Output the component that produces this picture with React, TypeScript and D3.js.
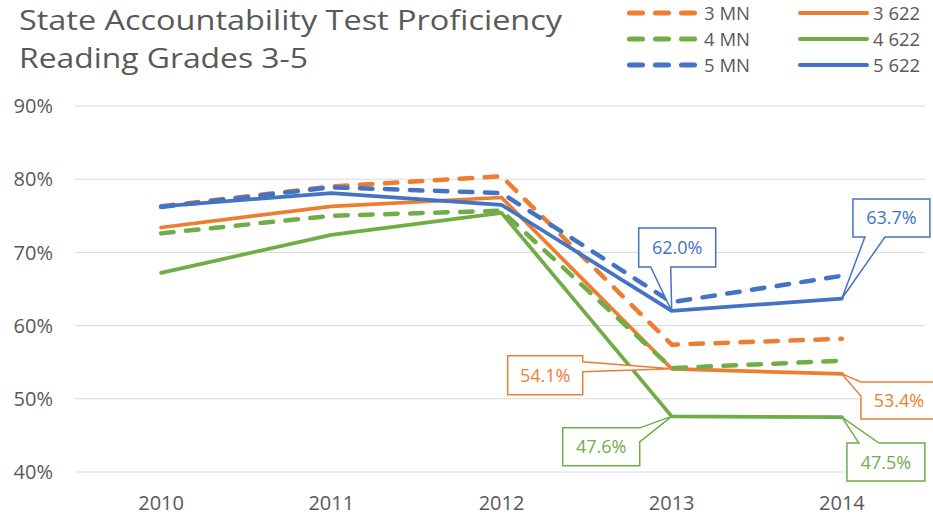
import React from 'react';
import * as d3 from 'd3';

const years = ['2010', '2011', '2012', '2013', '2014'];
const mn3 = [76.3, 79.0, 80.4, 57.4, 58.2];
const s3 = [73.4, 76.3, 77.5, 54.1, 53.4];
const mn4 = [72.6, 75.0, 75.7, 54.2, 55.2];
const s4 = [67.2, 72.4, 75.4, 47.6, 47.5];
const mn5 = [76.2, 78.9, 78.1, 63.2, 66.8];
const s5 = [76.3, 78.1, 76.5, 62.0, 63.7];
const yTicks = [40, 50, 60, 70, 80, 90];

const ORANGE = '#ED7D31';
const GREEN = '#70AD47';
const BLUE = '#4472C4';
const GRAY = '#595959';

const series = [
  { name: '3 MN', values: mn3, color: ORANGE, dashed: true },
  { name: '3 622', values: s3, color: ORANGE, dashed: false },
  { name: '4 MN', values: mn4, color: GREEN, dashed: true },
  { name: '4 622', values: s4, color: GREEN, dashed: false },
  { name: '5 MN', values: mn5, color: BLUE, dashed: true },
  { name: '5 622', values: s5, color: BLUE, dashed: false },
];

// callout layout: series index, point index, box offset from point, wedge edge & base offsets
const callouts = [
  { s: 5, i: 3, dx: -33, dy: -83, w: 77, h: 39, edge: 'bottom', b1: -21, b2: -1 },
  { s: 5, i: 4, dx: 11, dy: -99.5, w: 77, h: 38, edge: 'bottom', b1: 23, b2: 43 },
  { s: 1, i: 3, dx: -164, dy: -13, w: 75, h: 39, edge: 'right', b1: -7, b2: 3 },
  { s: 1, i: 4, dx: 19, dy: 8, w: 76, h: 37, edge: 'left', b1: 8, b2: 22 },
  { s: 3, i: 3, dx: -109, dy: 11.5, w: 77, h: 38, edge: 'right', b1: 11.5, b2: 25.5 },
  { s: 3, i: 4, dx: 5, dy: 26, w: 78, h: 38, edge: 'top', b1: 17, b2: 37 },
];

const W = 933;
const H = 527;
const FONT = "'Open Sans', 'DejaVu Sans', sans-serif";

export default function App() {
  const x = d3.scalePoint<string>().domain(years).range([76, 927]).padding(0.5);
  const y = d3.scaleLinear().domain([40, 90]).range([472, 106]);
  const line = d3
    .line<number>()
    .x((_, i) => x(years[i]) as number)
    .y((d) => y(d));

  const calloutPath = (c: any, ax: number, ay: number) => {
    const L = ax + c.dx;
    const T = ay + c.dy;
    const R = L + c.w;
    const B = T + c.h;
    const pts: [number, number][] = [];
    pts.push([L, T]);
    if (c.edge === 'top') {
      pts.push([ax + c.b1, T], [ax, ay], [ax + c.b2, T]);
    }
    pts.push([R, T]);
    if (c.edge === 'right') {
      pts.push([R, ay + c.b1], [ax, ay], [R, ay + c.b2]);
    }
    pts.push([R, B]);
    if (c.edge === 'bottom') {
      pts.push([ax + c.b2, B], [ax, ay], [ax + c.b1, B]);
    }
    pts.push([L, B]);
    if (c.edge === 'left') {
      pts.push([L, ay + c.b2], [ax, ay], [L, ay + c.b1]);
    }
    return 'M' + pts.map((p) => p.join(',')).join('L') + 'Z';
  };

  const legendRows = [13, 39, 65];

  return (
    <svg width={W} height={H} style={{ position: 'absolute', left: 0, top: 0, background: '#fff' }}>
      <rect x={0} y={0} width={W} height={H} fill="#fff" />
      {/* title */}
      <text x={19} y={29.5} fontFamily={FONT} fontSize={28} fill={GRAY} textLength={543} lengthAdjust="spacingAndGlyphs">
        State Accountability Test Proficiency
      </text>
      <text x={19} y={68} fontFamily={FONT} fontSize={28} fill={GRAY} textLength={289} lengthAdjust="spacingAndGlyphs">
        Reading Grades 3-5
      </text>

      {/* legend */}
      {series.map((s, k) => {
        const row = Math.floor(k / 2);
        const col = k % 2;
        const ly = legendRows[row];
        const x0 = col === 0 ? 627 : 798;
        const x1 = col === 0 ? 697 : 869;
        const tx = col === 0 ? 704 : 873;
        return (
          <g key={s.name}>
            {s.dashed ? (
              <line x1={x0 + 2.5} x2={x1 - 2.5} y1={ly} y2={ly} stroke={s.color} strokeWidth={5} strokeLinecap="round" strokeDasharray="13 13" />
            ) : (
              <line x1={x0 + 2} x2={x1 - 2} y1={ly} y2={ly} stroke={s.color} strokeWidth={4} strokeLinecap="round" />
            )}
            <text x={tx} y={ly} dy="0.36em" fontFamily={FONT} fontSize={18.5} fill={GRAY}>
              {s.name}
            </text>
          </g>
        );
      })}

      {/* gridlines & y axis */}
      {yTicks.map((t) => (
        <g key={t}>
          <line x1={75} x2={925} y1={y(t)} y2={y(t)} stroke="#D9D9D9" strokeWidth={1} />
          <text x={53} y={y(t)} dy="0.36em" textAnchor="end" fontFamily={FONT} fontSize={20} fill={GRAY}>
            {t}%
          </text>
        </g>
      ))}

      {/* x axis labels */}
      {years.map((yr) => (
        <text key={yr} x={x(yr)} y={510} textAnchor="middle" fontFamily={FONT} fontSize={20} fill={GRAY}>
          {yr}
        </text>
      ))}

      {/* lines */}
      {series.map((s) => (
        <path
          key={s.name}
          d={line(s.values) || ''}
          fill="none"
          stroke={s.color}
          strokeWidth={s.dashed ? 4.5 : 3.75}
          strokeDasharray={s.dashed ? '12.5 12.5' : undefined}
          strokeLinecap="round"
          strokeLinejoin="round"
        />
      ))}

      {/* callouts */}
      {callouts.map((c, k) => {
        const s = series[c.s];
        const v = s.values[c.i];
        const ax = x(years[c.i]) as number;
        const ay = y(v);
        return (
          <g key={k}>
            <path d={calloutPath(c, ax, ay)} fill="#fff" stroke={s.color} strokeWidth={1.5} strokeLinejoin="miter" />
            <text
              x={ax + c.dx + c.w / 2}
              y={ay + c.dy + c.h / 2}
              dy="0.36em"
              textAnchor="middle"
              fontFamily={FONT}
              fontSize={18}
              fill={s.color}
            >
              {v.toFixed(1)}%
            </text>
          </g>
        );
      })}
    </svg>
  );
}
